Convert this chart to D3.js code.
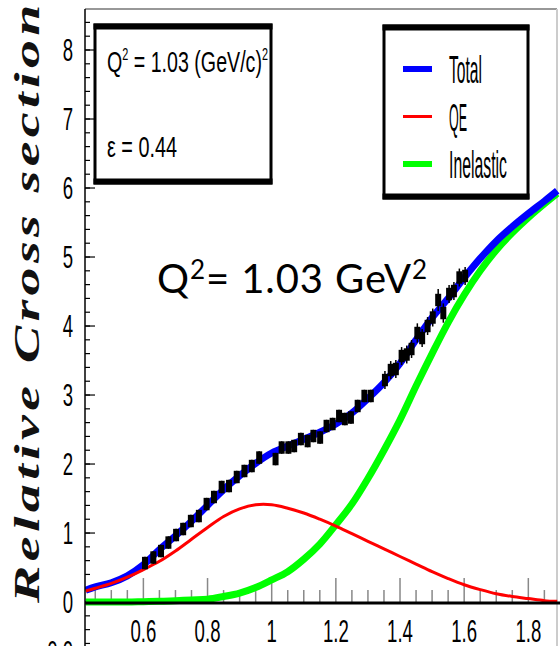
<!DOCTYPE html>
<html><head><meta charset="utf-8">
<script src="https://cdn.jsdelivr.net/npm/d3@7"></script>
<style>body{margin:0;background:#fff;} svg{display:block;}</style>
</head><body><svg id="c" width="560" height="646"></svg>
<script>
// ---- data ----
const curveX   = [0.42,0.45,0.5,0.55,0.6,0.65,0.7,0.75,0.8,0.85,0.9,0.95,1.0,1.05,1.1,1.15,1.2,1.25,1.3,1.35,1.4,1.45,1.5,1.55,1.6,1.65,1.7,1.75,1.8,1.85,1.89];
const totalY   = [0.17,0.22,0.28,0.38,0.54,0.76,0.96,1.17,1.40,1.63,1.83,2.01,2.16,2.26,2.36,2.46,2.58,2.74,2.95,3.18,3.46,3.80,4.12,4.40,4.70,4.98,5.23,5.44,5.63,5.81,5.96];
const qeY      = [0.16,0.20,0.27,0.36,0.47,0.59,0.74,0.91,1.08,1.24,1.35,1.41,1.41,1.36,1.29,1.20,1.10,0.99,0.88,0.77,0.66,0.55,0.44,0.34,0.25,0.18,0.12,0.08,0.05,0.02,0.01];
const inelY    = [0.0,0.0,0.0,0.0,0.005,0.01,0.02,0.03,0.04,0.08,0.13,0.21,0.32,0.44,0.62,0.84,1.12,1.42,1.79,2.20,2.64,3.13,3.60,4.05,4.45,4.80,5.10,5.35,5.57,5.77,5.92];

const dataX = [0.605,0.631,0.655,0.678,0.702,0.724,0.748,0.773,0.797,0.820,0.844,0.867,0.891,0.915,0.938,0.961,1.012,1.031,1.052,1.070,1.091,1.112,1.130,1.151,1.171,1.190,1.210,1.228,1.247,1.268,1.289,1.309,1.353,1.371,1.387,1.405,1.421,1.436,1.454,1.469,1.486,1.502,1.519,1.535,1.553,1.568,1.585,1.603];
const dataY = [0.565,0.645,0.739,0.862,0.971,1.058,1.174,1.246,1.420,1.522,1.667,1.681,1.812,1.899,1.971,2.094,2.072,2.239,2.239,2.261,2.362,2.333,2.406,2.384,2.551,2.580,2.696,2.652,2.674,2.841,2.986,2.986,3.217,3.362,3.377,3.565,3.587,3.667,3.899,3.826,4.000,4.123,4.377,4.188,4.464,4.507,4.703,4.725];
const dataErr = [0.09,0.09,0.09,0.09,0.09,0.09,0.09,0.09,0.09,0.09,0.09,0.09,0.09,0.09,0.09,0.09,0.09,0.09,0.09,0.09,0.09,0.09,0.09,0.09,0.09,0.09,0.09,0.09,0.09,0.09,0.09,0.09,0.09,0.09,0.09,0.09,0.09,0.09,0.09,0.09,0.09,0.09,0.09,0.09,0.09,0.09,0.09,0.09];
const dataErrTot = [0.09,0.09,0.09,0.09,0.09,0.09,0.09,0.09,0.09,0.09,0.09,0.09,0.09,0.09,0.09,0.09,0.09,0.09,0.09,0.09,0.09,0.09,0.09,0.09,0.09,0.09,0.09,0.09,0.09,0.09,0.09,0.09,0.13,0.13,0.13,0.13,0.13,0.13,0.14,0.13,0.13,0.13,0.16,0.14,0.13,0.13,0.13,0.13];

const xMajor = [0.6,0.8,1.0,1.2,1.4,1.6,1.8];
const xMajorLabels = ["0.6","0.8","1","1.2","1.4","1.6","1.8"];
const xMinor = [0.45,0.5,0.55,0.65,0.7,0.75,0.85,0.9,0.95,1.05,1.1,1.15,1.25,1.3,1.35,1.45,1.5,1.55,1.65,1.7,1.75,1.85];
const yMajor = [0,1,2,3,4,5,6,7,8];
const yMajorLabels = ["0","1","2","3","4","5","6","7","8"];
const yMinorStart = -0.6, yMinorStep = 0.2, yMinorCount = 47;

const legendNames = ["Total","QE","Inelastic"];
const legendColors = ["#0000ff","#ff0000","#00ff00"];

// ---- layout ----
const svg = d3.select("#c");
const x = d3.scaleLinear().domain([0.42, 1.89]).range([85.64, 557.2]);
const y = d3.scaleLinear().domain([-0.64, 8.6]).range([646.2, 8.6]);
const L = 85, R = 557, T = 9, B = 646;

svg.append("defs").append("clipPath").attr("id","plot")
  .append("rect").attr("x",L).attr("y",T).attr("width",R-L+3).attr("height",B-T);

// frame
svg.append("line").attr("x1",L).attr("x2",R).attr("y1",T).attr("y2",T).attr("stroke","#333").attr("stroke-width",1.2);
svg.append("line").attr("x1",R).attr("x2",R).attr("y1",T).attr("y2",B).attr("stroke","#ccc").attr("stroke-width",2);

// x ticks (pointing up from zero line)
const g = svg.append("g");
g.selectAll(".xmaj").data(xMajor).join("line")
  .attr("x1",d=>x(d)).attr("x2",d=>x(d)).attr("y1",y(0)).attr("y2",y(0)-24)
  .attr("stroke","#888").attr("stroke-width",1.5);
g.selectAll(".xmin").data(xMinor).join("line")
  .attr("x1",d=>x(d)).attr("x2",d=>x(d)).attr("y1",y(0)).attr("y2",y(0)-12)
  .attr("stroke","#888").attr("stroke-width",1.5);

// y ticks
const yMinor = d3.range(yMinorCount).map(i => +(yMinorStart + i*yMinorStep).toFixed(2)).filter(v => y(v) > T+2);
g.selectAll(".ymin").data(yMinor).join("line")
  .attr("x1",L).attr("x2",L+5).attr("y1",d=>y(d)).attr("y2",d=>y(d))
  .attr("stroke","#000").attr("stroke-width",1.2);
g.selectAll(".ymaj").data(yMajor).join("line")
  .attr("x1",L).attr("x2",L+10).attr("y1",d=>y(d)).attr("y2",d=>y(d))
  .attr("stroke","#000").attr("stroke-width",1.2);

// curves
const plot = svg.append("g").attr("clip-path","url(#plot)");
const line = (ys) => d3.line().x((d,i)=>x(curveX[i])).y((d,i)=>y(ys[i])).curve(d3.curveCatmullRom.alpha(0.5))(ys);
plot.append("path").attr("d",line(inelY)).attr("fill","none").attr("stroke","#00ff00").attr("stroke-width",7);
plot.append("path").attr("d",line(totalY)).attr("fill","none").attr("stroke","#0000ff").attr("stroke-width",7);
plot.append("path").attr("d",line(qeY)).attr("fill","none").attr("stroke","#ff0000").attr("stroke-width",3);

// zero axis line
svg.append("line").attr("x1",L).attr("x2",560).attr("y1",y(0)+1).attr("y2",y(0)+1).attr("stroke","#000").attr("stroke-width",3);
// left axis
svg.append("line").attr("x1",L).attr("x2",L).attr("y1",T).attr("y2",B).attr("stroke","#000").attr("stroke-width",1.5);

// data points
const pts = plot.append("g");
dataX.forEach((xv,i)=>{
  pts.append("line").attr("x1",x(xv)).attr("x2",x(xv))
    .attr("y1",y(dataY[i]-dataErrTot[i])).attr("y2",y(dataY[i]+dataErrTot[i]))
    .attr("stroke","#000").attr("stroke-width",1.5);
  pts.append("rect").attr("x",x(xv)-3).attr("width",6)
    .attr("y",y(dataY[i]+dataErr[i])).attr("height",y(dataY[i]-dataErr[i])-y(dataY[i]+dataErr[i]))
    .attr("fill","#000");
});

// tick labels
const ff = "Liberation Sans, Arial, sans-serif";
const lab = (sel, tx, ty, anchor) => sel.attr("transform",(d,i)=>`translate(${tx(d,i)},${ty(d,i)}) scale(0.6,1)`)
  .attr("text-anchor",anchor).attr("font-family",ff).attr("font-size",31).attr("fill","#000");
lab(svg.selectAll(".xl").data(xMajor).join("text").text((d,i)=>xMajorLabels[i]), d=>x(d), ()=>642, "middle");
lab(svg.selectAll(".yl").data(yMajor).join("text").text((d,i)=>yMajorLabels[i]), ()=>73, d=>y(d)+11, "end");
// clipped label at bottom-left edge
svg.append("text").attr("transform","translate(73,663) scale(0.6,1)").attr("text-anchor","end")
  .attr("font-family",ff).attr("font-size",31).text("0.0");

// y title
svg.append("text").attr("transform","translate(39,603) rotate(-90) scale(1.6,1)")
  .attr("font-family","Liberation Serif, Times New Roman, serif").attr("font-style","italic").attr("font-weight","bold")
  .attr("font-size",35).attr("textLength",374).attr("lengthAdjust","spacing").attr("fill","#111")
  .text("Relative Cross section");

// boxes
function boxFrame(x0,y0,x1,y1){
  svg.append("rect").attr("x",x0).attr("y",y0).attr("width",x1-x0).attr("height",y1-y0).attr("fill","#fff").attr("stroke","#000").attr("stroke-width",3);
  svg.append("rect").attr("x",x0-1.5).attr("y",y0-1.5).attr("width",x1-x0+3).attr("height",6).attr("fill","#000");
  svg.append("rect").attr("x",x0-1.5).attr("y",y1-4.5).attr("width",x1-x0+3).attr("height",6).attr("fill","#000");
}
boxFrame(95,25,271,183);
const t1 = svg.append("text").attr("x",107).attr("y",72).attr("font-family",ff).attr("font-size",29)
  .attr("textLength",161).attr("lengthAdjust","spacingAndGlyphs");
t1.append("tspan").text("Q");
t1.append("tspan").attr("font-size",16).attr("dy",-12).text("2");
t1.append("tspan").attr("dy",12).text(" = 1.03 (GeV/c)");
t1.append("tspan").attr("font-size",16).attr("dy",-12).text("2");
svg.append("text").attr("x",107).attr("y",157).attr("font-family",ff).attr("font-size",30)
  .attr("textLength",70).attr("lengthAdjust","spacingAndGlyphs").text("ε = 0.44");

// legend
boxFrame(384,26,528,198);
const legW = [33,18,58];
legendNames.forEach((n,i)=>{
  const cy = 69 + i*47.5;
  svg.append("line").attr("x1",403).attr("x2",432).attr("y1",cy).attr("y2",cy)
    .attr("stroke",legendColors[i]).attr("stroke-width", i===1?3:6);
  svg.append("text").attr("x",449).attr("y",cy+14).attr("font-family",ff).attr("font-size",38)
    .attr("textLength",legW[i]).attr("lengthAdjust","spacingAndGlyphs").text(n);
});

// annotation
const an = svg.append("text").attr("x",157).attr("y",293).attr("font-family","Lato, Open Sans, sans-serif").attr("font-size",40).attr("fill","#000")
  .attr("textLength",270).attr("lengthAdjust","spacing");
an.append("tspan").text("Q");
an.append("tspan").attr("font-size",26).attr("dy",-14).text("2");
an.append("tspan").attr("dy",14).text("= 1.03 GeV");
an.append("tspan").attr("font-size",26).attr("dy",-14).text("2");
</script></body></html>
